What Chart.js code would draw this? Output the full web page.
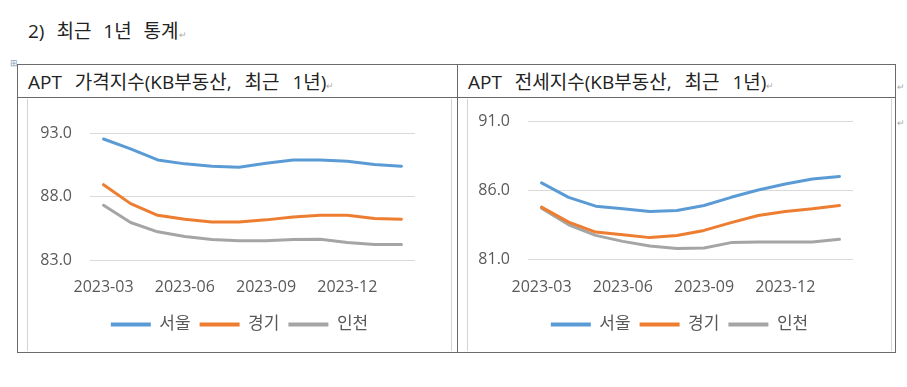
<!DOCTYPE html>
<html lang="ko">
<head>
<meta charset="utf-8">
<script src="https://cdn.jsdelivr.net/npm/chart.js@4.4.1/dist/chart.umd.min.js"></script>
<style>
  html, body { margin: 0; padding: 0; background: #ffffff; }
  body { width: 907px; height: 387px; position: relative; overflow: hidden;
         font-family: 'Open Sans', 'Noto Sans CJK KR', sans-serif; color: #222; }
  .abs { position: absolute; }
  .heading { left: 28px; top: 20px; font-size: 19px; line-height: 22px; word-spacing: 7px; color: #222; white-space: nowrap; }
  .hdr { top: 71px; font-size: 19px; line-height: 22px; word-spacing: 8px; color: #222; white-space: nowrap; }
  .pm { font-size: 9px; color: #aaa; word-spacing: 0; }
  .tbl { left: 17px; top: 64px; width: 877px; height: 287px; border: 1px solid #6a6a6a; }
  .vline { left: 457px; top: 64px; width: 1px; height: 288px; background: #6a6a6a; }
  .hline { left: 17px; top: 97px; width: 879px; height: 1px; background: #6a6a6a; }
  .box { top: 99px; height: 252px; width: 425px; border-left: 1px solid #d4d4d4; border-right: 1px solid #d4d4d4; box-sizing: border-box; }
  canvas { position: absolute; }
</style>
</head>
<body>
<div class="abs heading">2) 최근 1년 통계<span class="pm">↵</span></div>
<div class="abs pm" style="left:10px; top:56px; color:#8aa0c0;">⊞</div>
<div class="abs tbl"></div>
<div class="abs vline"></div>
<div class="abs hline"></div>
<div class="abs hdr" style="left:28px;">APT 가격지수(KB부동산, 최근 1년)<span class="pm">↵</span></div>
<div class="abs hdr" style="left:468px;">APT 전세지수(KB부동산, 최근 1년)<span class="pm">↵</span></div>
<div class="abs pm" style="left:897px; top:80px;">↵</div>
<div class="abs pm" style="left:897px; top:116px;">↵</div>
<div class="abs box" style="left:27px;"></div>
<div class="abs box" style="left:467px;"></div>
<canvas id="c1" width="425" height="252" style="left:27px; top:99px;"></canvas>
<canvas id="c2" width="425" height="252" style="left:467px; top:99px;"></canvas>
<script>
// ---- data ----
const months = ['2023-03','2023-04','2023-05','2023-06','2023-07','2023-08','2023-09','2023-10','2023-11','2023-12','2024-01','2024-02'];
const seriesNames = ['서울', '경기', '인천'];
const priceSeoul    = [92.53, 91.75, 90.88, 90.57, 90.39, 90.30, 90.62, 90.88, 90.88, 90.78, 90.52, 90.39];
const priceGyeonggi = [88.93, 87.44, 86.52, 86.21, 86.00, 86.00, 86.16, 86.39, 86.52, 86.52, 86.26, 86.21];
const priceIncheon  = [87.31, 85.95, 85.22, 84.85, 84.62, 84.51, 84.51, 84.62, 84.64, 84.38, 84.23, 84.23];
const jeonseSeoul    = [86.53, 85.49, 84.85, 84.66, 84.47, 84.54, 84.90, 85.49, 86.02, 86.45, 86.81, 87.00];
const jeonseGyeonggi = [84.78, 83.70, 82.98, 82.79, 82.58, 82.74, 83.10, 83.66, 84.18, 84.47, 84.66, 84.90];
const jeonseIncheon  = [84.70, 83.51, 82.74, 82.31, 81.98, 81.79, 81.83, 82.22, 82.26, 82.26, 82.26, 82.46];
const priceTicks  = [83.0, 88.0, 93.0];
const jeonseTicks = [81.0, 86.0, 91.0];

const colors = ['#5B9BD5', '#ED7D31', '#A5A5A5'];
const FONT = "'Open Sans', 'Noto Sans CJK KR', sans-serif";
const TICK_COLOR = '#595959';

// keep the legend centred over the whole canvas, not just the padded part
const centerLegend = {
  id: 'centerLegend',
  afterLayout(chart) {
    const l = chart.legend;
    if (l) { l.left = 0; l.right = chart.width; l.width = chart.width; }
  }
};

function makeChart(id, values, ticks, area) {
  const W = 425, H = 252;
  const legendFont = 17, legendPad = 9;
  const legendH = legendFont + legendPad + 10;
  const padB = 8;
  const datasets = values.map((v, i) => ({
    label: seriesNames[i],
    data: v,
    borderColor: colors[i],
    backgroundColor: colors[i],
    borderWidth: 3,
    pointRadius: 0,
    tension: 0,
    borderJoinStyle: 'round',
    borderCapStyle: 'round',
    fill: false
  }));
  return new Chart(document.getElementById(id), {
    type: 'line',
    data: { labels: months, datasets },
    plugins: [centerLegend],
    options: {
      responsive: false,
      animation: false,
      events: [],
      layout: { padding: { top: area.top, right: W - area.right, bottom: padB, left: 0 } },
      scales: {
        x: {
          offset: true,
          grid: { display: false, drawTicks: false },
          border: { display: false },
          ticks: {
            autoSkip: false, maxRotation: 0, padding: 18,
            color: TICK_COLOR, font: { family: FONT, size: 16 },
            callback: (val, idx) => (idx % 3 === 0 ? months[idx] : '')
          },
          afterFit: s => {
            s.height = (H - padB - legendH) - area.bottom;
            s.paddingLeft = 0; s.paddingRight = 0;
          }
        },
        y: {
          min: ticks[0], max: ticks[ticks.length - 1],
          afterBuildTicks: s => { s.ticks = ticks.map(t => ({ value: t })); },
          grid: { color: '#d9d9d9', lineWidth: 1, drawTicks: false },
          border: { display: false },
          ticks: {
            padding: 18, color: TICK_COLOR, font: { family: FONT, size: 16 },
            callback: v => Number(v).toFixed(1)
          },
          afterFit: s => {
            s.width = area.left;
            s.paddingTop = 0; s.paddingBottom = 0;
          }
        }
      },
      plugins: {
        tooltip: { enabled: false },
        legend: {
          position: 'bottom',
          labels: {
            boxWidth: 40, boxHeight: 4, padding: legendPad,
            color: TICK_COLOR, font: { family: FONT, size: legendFont },
            generateLabels: chart => Chart.defaults.plugins.legend.labels.generateLabels(chart)
              .map(l => Object.assign(l, { lineWidth: 0, fillStyle: colors[l.datasetIndex] }))
          }
        }
      }
    }
  });
}

makeChart('c1', [priceSeoul, priceGyeonggi, priceIncheon], priceTicks, { left: 63, right: 388, top: 34, bottom: 161 });
makeChart('c2', [jeonseSeoul, jeonseGyeonggi, jeonseIncheon], jeonseTicks, { left: 61, right: 386, top: 22, bottom: 160.5 });
</script>
</body>
</html>
